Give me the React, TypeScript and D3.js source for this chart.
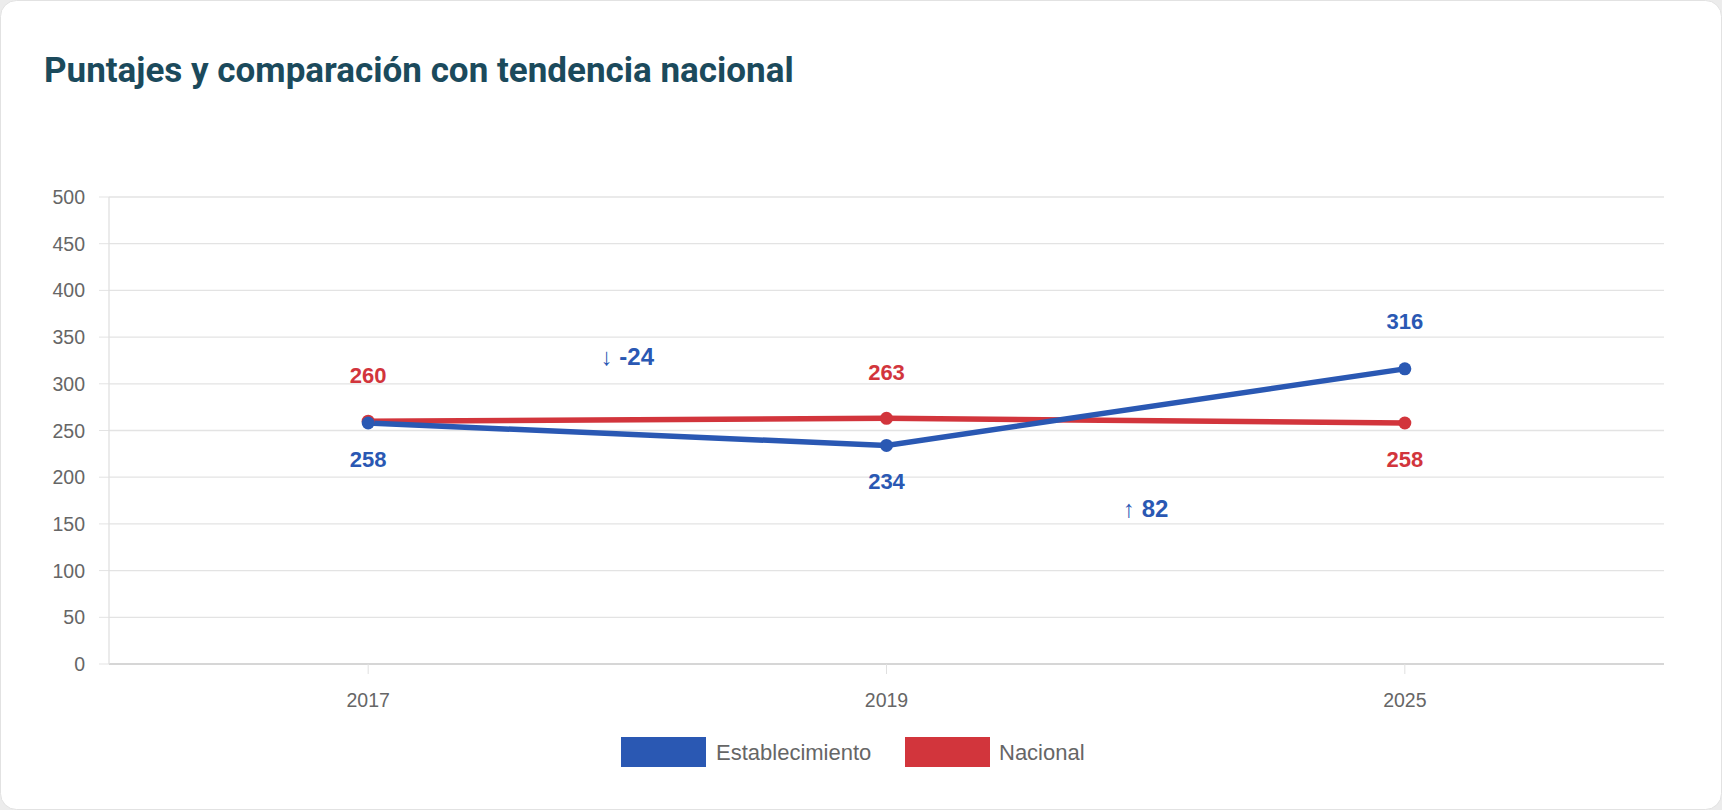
import React from "react";
import * as d3 from "d3";

const years = ["2017", "2019", "2025"];
const establecimiento = [258, 234, 316];
const nacional = [260, 263, 258];
const yTicks = [0, 50, 100, 150, 200, 250, 300, 350, 400, 450, 500];
const changes = [
  { from: 0, to: 1, text: "↓ -24", at: 329 },
  { from: 1, to: 2, text: "↑ 82", at: 166 },
];

const W = 1722, H = 810;
const BLUE = "#2a58b3", RED = "#d2353c";

export default function App() {
  const x = d3.scalePoint<string>().domain(years).range([109, 1664]).padding(0.5);
  const y = d3.scaleLinear().domain([0, 500]).range([664, 197]);
  const line = d3.line<number>().x((_, i) => x(years[i])!).y((d) => y(d));
  const font = "'Liberation Sans', Arial, sans-serif";
  return (
    <svg width={W} height={H} style={{ position: "fixed", left: 0, top: 0 }}>
      <rect x={0} y={0} width={W} height={H} fill="#ececec" />
      <rect x={0.5} y={0.5} width={W - 1} height={H - 1} rx={16} fill="#fff" stroke="#e2e2e2" />
      <text x={44} y={82} fontFamily="Roboto, sans-serif" fontWeight={700} fontSize={35} fill="#1b4a5c">
        Puntajes y comparación con tendencia nacional
      </text>
      {yTicks.map((t) => (
        <g key={t}>
          <line x1={109} x2={1664} y1={y(t)} y2={y(t)} stroke={t === 0 ? "#c8c8c8" : "#e3e3e3"} strokeWidth={1.3} />
          <line x1={99} x2={109} y1={y(t)} y2={y(t)} stroke="#e3e3e3" />
          <text x={85} y={y(t) + 7} textAnchor="end" fontFamily={font} fontSize={19.5} fill="#666">{t}</text>
        </g>
      ))}
      <line x1={109} x2={109} y1={197} y2={664} stroke="#e0e0e0" strokeWidth={1.3} />
      {years.map((yr) => (
        <g key={yr}>
          <line x1={x(yr)} x2={x(yr)} y1={664} y2={674} stroke="#e0e0e0" />
          <text x={x(yr)} y={707} textAnchor="middle" fontFamily={font} fontSize={19.5} fill="#666">{yr}</text>
        </g>
      ))}
      <path d={line(nacional)!} fill="none" stroke={RED} strokeWidth={5.5} />
      <path d={line(establecimiento)!} fill="none" stroke={BLUE} strokeWidth={5.5} />
      {nacional.map((v, i) => (
        <circle key={"n" + i} cx={x(years[i])} cy={y(v)} r={6.5} fill={RED} />
      ))}
      {establecimiento.map((v, i) => (
        <circle key={"e" + i} cx={x(years[i])} cy={y(v)} r={6.5} fill={BLUE} />
      ))}
      {establecimiento.map((v, i) => {
        const above = v > nacional[i];
        return (
          <text key={"le" + i} x={x(years[i])} y={above ? y(v) - 40 : y(v) + 44} textAnchor="middle"
            fontFamily={font} fontWeight={700} fontSize={22} fill={BLUE}>{v}</text>
        );
      })}
      {nacional.map((v, i) => {
        const above = v >= establecimiento[i];
        return (
          <text key={"ln" + i} x={x(years[i])} y={above ? y(v) - 38 : y(v) + 44} textAnchor="middle"
            fontFamily={font} fontWeight={700} fontSize={22} fill={RED}>{v}</text>
        );
      })}
      {changes.map((c, i) => (
        <text key={"c" + i} x={(x(years[c.from])! + x(years[c.to])!) / 2} y={y(c.at) + 8} textAnchor="middle"
          fontFamily={font} fontWeight={700} fontSize={24} fill={BLUE}>{c.text}</text>
      ))}
      <rect x={621} y={737} width={85} height={30} fill={BLUE} />
      <text x={716} y={760} fontFamily={font} fontSize={22} fill="#666">Establecimiento</text>
      <rect x={905} y={737} width={85} height={30} fill={RED} />
      <text x={999} y={760} fontFamily={font} fontSize={22} fill="#666">Nacional</text>
    </svg>
  );
}
